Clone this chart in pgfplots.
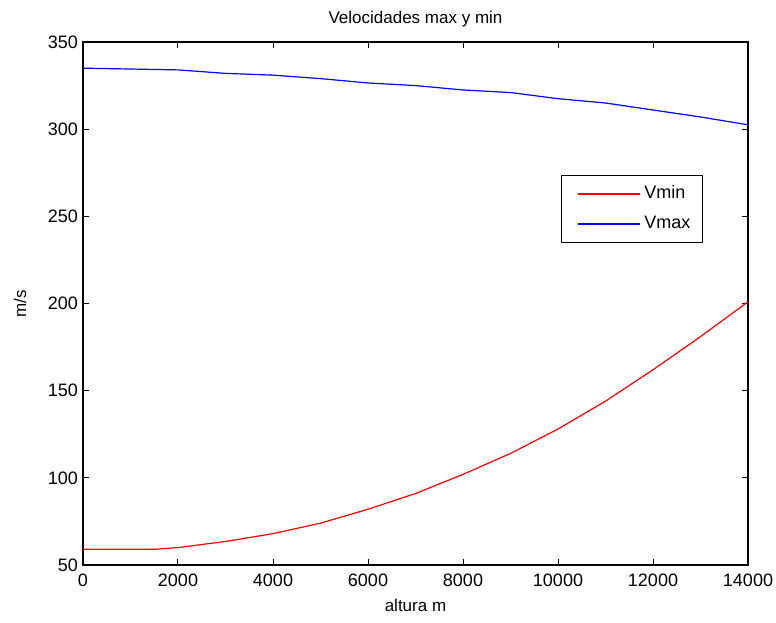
\documentclass[border=0pt]{standalone}
\usepackage{fontspec}
\setmainfont{Liberation Sans}
\usepackage{pgfplots}
\pgfplotsset{compat=1.18}
\begin{document}
\begin{tikzpicture}
\useasboundingbox (-41.5pt,-28.5pt) rectangle (346.5pt,282.5pt);
\begin{axis}[
  scale only axis,
  width=332.5pt, height=261.5pt,
  at={(0,0)}, anchor=south west,
  xmin=0, xmax=14000, ymin=50, ymax=350,
  xtick={0,2000,...,14000},
  ytick={50,100,...,350},
  scaled x ticks=false,
  /pgf/number format/.cd, 1000 sep={}, assume math mode=true,
  /pgfplots/.cd,
  tick align=inside,
  major tick length=3pt,
  tick style={black, line width=0.5pt},
  axis line style={line width=0.6pt},
  every tick label/.style={font=\fontsize{9}{10}\selectfont},
  xticklabel style={yshift=-1pt},
  yticklabel style={xshift=1pt},
  title={Velocidades max y min},
  title style={font=\fontsize{8.5}{10}\selectfont, yshift=-2pt},
  xlabel={altura m},
  ylabel={m/s},
  label style={font=\fontsize{8.5}{10}\selectfont},
  xlabel style={yshift=0.5pt},
  ylabel style={yshift=4pt},
  legend style={at={(0.932,0.746)}, anchor=north east, draw=black,
    font=\fontsize{9}{11}\selectfont, inner xsep=4pt, inner ysep=3.3pt,
    row sep=3.3pt},
  legend cell align=left,
  legend image code/.code={\path[draw=none] (0pt,0pt) -- (35pt,0pt); \draw[#1, line width=0.7pt] (4pt,0pt) -- (35pt,0pt);},
]
\addplot[red, line width=0.6pt] coordinates {
(0,59) (1500,59) (2000,60) (3000,63.5) (4000,68) (5000,74) (6000,82)
(7000,91) (8000,102) (9000,114) (10000,128) (11000,144) (12000,162)
(13000,181) (14000,201)};
\addlegendentry{Vmin}
\addplot[blue, line width=0.6pt] coordinates {
(0,335) (1000,334.5) (2000,334) (3000,332) (4000,331) (5000,329)
(6000,326.5) (7000,325) (8000,322.5) (9000,321) (10000,317.5)
(11000,315) (12000,311) (13000,307) (14000,302.5)};
\addlegendentry{Vmax}
\end{axis}
\end{tikzpicture}
\end{document}
